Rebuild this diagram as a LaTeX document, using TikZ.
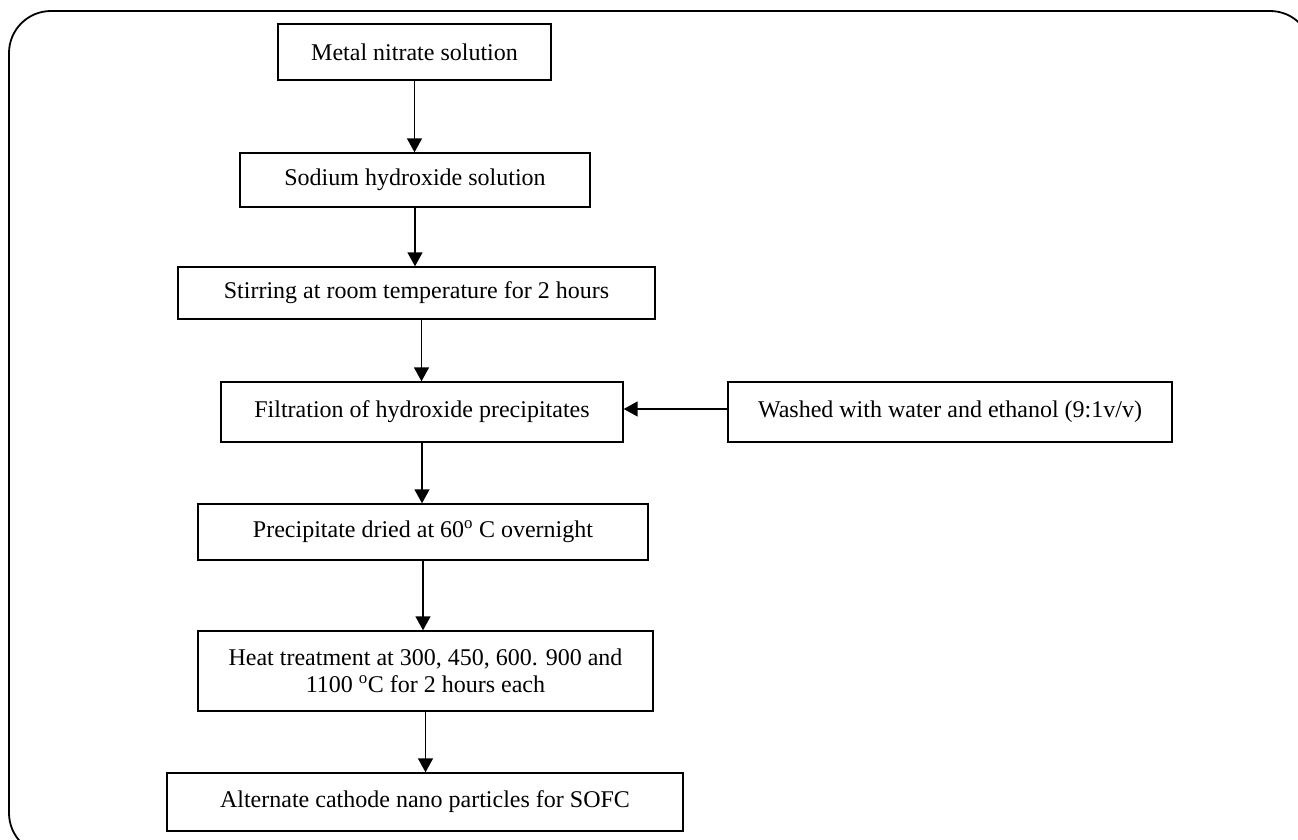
\documentclass[tikz,border=0pt]{standalone}
\usepackage{fontspec}
\setmainfont{Liberation Serif}
\usetikzlibrary{arrows.meta}
\begin{document}
\begin{tikzpicture}[x=1pt,y=-1pt,
  box/.style={draw,line width=1.4pt,inner sep=0pt,align=center,font=\fontsize{24}{27}\selectfont},
  arr/.style={line width=1.5pt,-{Triangle[length=14pt,width=15pt]}}]
\useasboundingbox (0,0) rectangle (1298,840);
\begin{scope}
\clip (0,0) rectangle (1298,840);
\draw[line width=1.8pt,rounded corners=42pt] (9,11) rectangle (1312,855);
\end{scope}
\node[box,minimum width=273pt,minimum height=56pt] (metal) at (414.5,52) {Metal nitrate solution};
\node[box,minimum width=350pt,minimum height=54pt] (sodium) at (415,180) {Sodium hydroxide solution};
\node[box,minimum width=477pt,minimum height=52pt] (stir) at (416.5,293) {Stirring at room temperature for 2 hours};
\node[box,minimum width=402pt,minimum height=60pt] (filt) at (422,412) {Filtration of hydroxide precipitates};
\node[box,minimum width=444pt,minimum height=60pt] (wash) at (950,412) {Washed with water and ethanol (9:1v/v)};
\node[box,minimum width=450pt,minimum height=56pt] (prec) at (423,532) {Precipitate dried at 60\textsuperscript{o} C overnight};
\node[box,minimum width=455pt,minimum height=80pt] (heat) at (425.5,671) {Heat treatment at 300, 450, 600. 900 and\\1100 \textsuperscript{o}C for 2 hours each};
\node[box,minimum width=516pt,minimum height=58pt] (final) at (425,802) {Alternate cathode nano particles for SOFC};
\draw[arr] (metal.south) -- (metal.south |- sodium.north);
\draw[arr] (sodium.south) -- (sodium.south |- stir.north);
\draw[arr] ([xshift=5pt]stir.south) -- ([xshift=5pt]stir.south |- filt.north);
\draw[arr] (filt.south) -- (filt.south |- prec.north);
\draw[arr] (prec.south) -- (prec.south |- heat.north);
\draw[arr] (heat.south) -- (heat.south |- final.north);
\draw[arr] ([yshift=3pt]wash.west) -- ([yshift=3pt]wash.west -| filt.east);
\end{tikzpicture}
\end{document}
